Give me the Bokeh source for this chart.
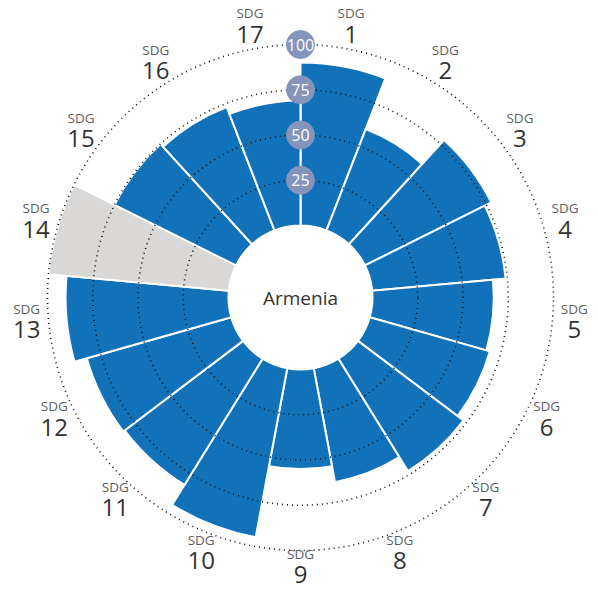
import math
from bokeh.plotting import figure
from bokeh.models import ColumnDataSource
from bokeh.core.properties import value
from bokeh.embed import file_html
from bokeh.resources import INLINE

# ---- data ----
goals = [f"{i}" for i in range(1, 18)]
scores = [90, 60, 78, 74, 67, 69, 73, 64, 55, 95, 82, 83, 90, None, 75, 73, 69]
scale_ticks = [25, 50, 75, 100]
country = "Armenia"

BLUE = "#1172b9"
GREY = "#d9d8d6"
SCALE_COL = "#8494bb"

W, H = 598, 592
CX, CY = 300, 297  # center in figure pixels from left / top
p = figure(width=W, height=H, output_backend="svg", toolbar_location=None,
           x_range=(-CX, W - CX), y_range=(-(H - CY), CY),
           min_border=0, outline_line_color=None, match_aspect=False)
p.axis.visible = False
p.grid.visible = False
p.background_fill_color = "white"
p.border_fill_color = "white"

R0 = 72.0      # inner radius (value 0)
K = 1.81       # px per unit
def rad(v):
    return R0 + K * v

n = len(goals)
step = 2 * math.pi / n
starts, ends, outer, colors = [], [], [], []
for i, s in enumerate(scores):
    a_end = math.pi / 2 - i * step
    a_start = a_end - step
    starts.append(a_start)
    ends.append(a_end)
    if s is None:
        outer.append(rad(100))
        colors.append(GREY)
    else:
        outer.append(rad(s))
        colors.append(BLUE)

src = ColumnDataSource(dict(x=[0] * n, y=[0] * n, s=starts, e=ends, o=outer, c=colors))
p.annular_wedge(x="x", y="y", inner_radius=R0, outer_radius="o", start_angle="s",
                end_angle="e", fill_color="c", line_color="white", line_width=2, source=src)

# dotted circles
for t in scale_ticks:
    p.arc(x=0, y=0, radius=rad(t), start_angle=0, end_angle=2 * math.pi,
          line_color="#111111", line_width=1.6, line_dash="1 4")

# inner white circle
p.scatter(x=[0], y=[0], size=2 * R0, marker="circle", fill_color="white", line_color="white")
p.text(x=[0], y=[0], text=[country], text_align="center", text_baseline="middle",
       text_font=value("Open Sans"), text_font_size="19px", text_color="#333333")

# scale markers
ty = [rad(t) for t in scale_ticks]
p.scatter(x=[0] * len(ty), y=ty, size=28, marker="circle", fill_color=SCALE_COL, line_color=SCALE_COL)
p.text(x=[0] * len(ty), y=ty, text=[str(t) for t in scale_ticks], text_align="center",
       text_baseline="middle", text_font=value("Open Sans"), text_font_size="16px",
       text_color="white")

# labels
LR = 275
lx, ly = [], []
for i in range(n):
    a = math.pi / 2 - (i + 0.5) * step
    lx.append(LR * math.cos(a))
    ly.append(max(LR * math.sin(a), -270))
p.text(x=lx, y=[v + 14 for v in ly], text=["SDG"] * n, text_align="center",
       text_baseline="middle", text_font=value("Open Sans"), text_font_size="13.5px",
       text_color="#606060")
p.text(x=lx, y=[v - 7 for v in ly], text=goals, text_align="center",
       text_baseline="middle", text_font=value("Open Sans"), text_font_size="24px",
       text_color="#333333")

open("out.html", "w").write(file_html(p, INLINE))
